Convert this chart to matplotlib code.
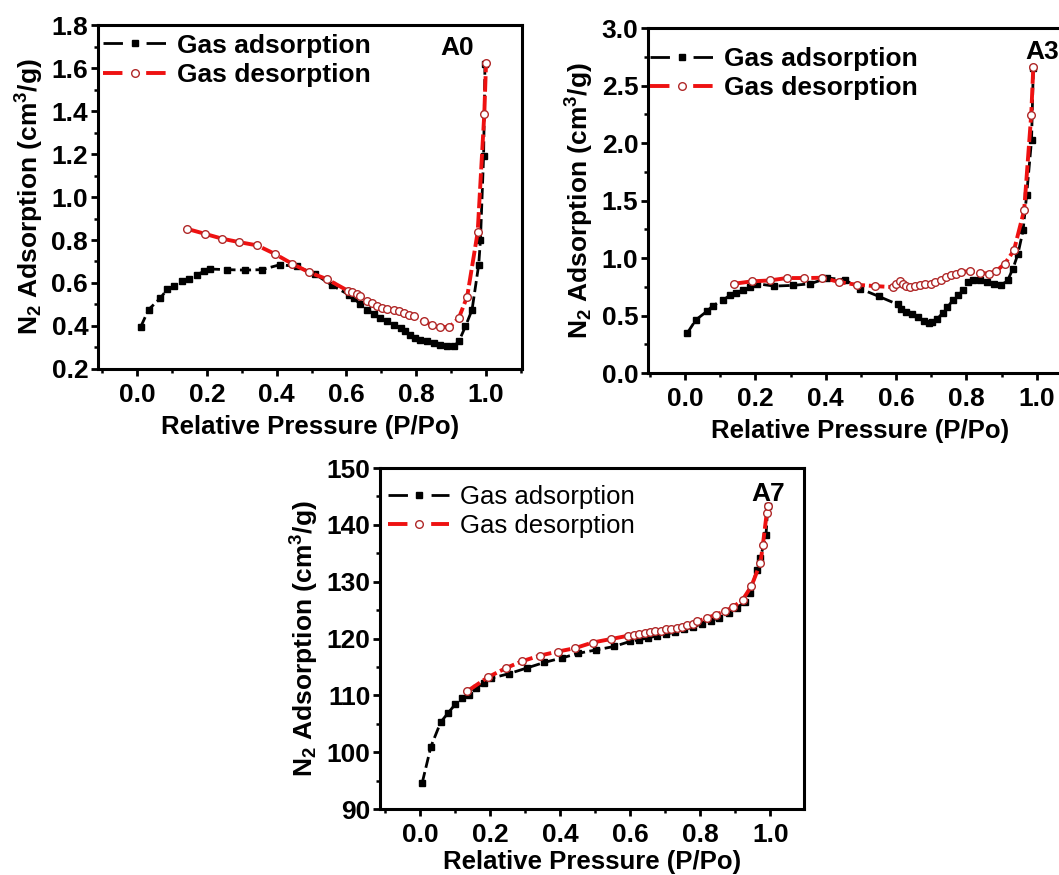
import matplotlib as mpl
mpl.use('Agg')
import matplotlib.pyplot as plt
from matplotlib.lines import Line2D
from matplotlib.ticker import MultipleLocator, FuncFormatter

mpl.rcParams.update({
    'font.family': 'Liberation Sans',
    'font.weight': 'bold',
    'mathtext.fontset': 'custom',
    'mathtext.rm': 'Liberation Sans:bold',
    'mathtext.bf': 'Liberation Sans:bold',
    'mathtext.it': 'Liberation Sans:bold',
    'axes.linewidth': 2.2,
})

# ---- A0 ----
a0_ads_x = [0.010, 0.033, 0.067, 0.086, 0.105, 0.129, 0.148, 0.172, 0.191, 0.208,
            0.258, 0.310, 0.358, 0.409, 0.458, 0.511, 0.559, 0.607, 0.621, 0.640,
            0.659, 0.678, 0.697, 0.716, 0.735, 0.755, 0.769, 0.783, 0.797, 0.812,
            0.831, 0.850, 0.869, 0.888, 0.907, 0.922, 0.941, 0.960, 0.979, 0.984,
            0.993, 0.997]
a0_ads_y = [0.394, 0.476, 0.530, 0.570, 0.584, 0.607, 0.620, 0.638, 0.654, 0.665,
            0.662, 0.660, 0.662, 0.685, 0.677, 0.640, 0.589, 0.545, 0.530, 0.500,
            0.476, 0.457, 0.437, 0.421, 0.406, 0.390, 0.375, 0.360, 0.344, 0.336,
            0.328, 0.320, 0.313, 0.305, 0.305, 0.328, 0.398, 0.476, 0.685, 0.800,
            1.190, 1.620]
a0_des_x = [0.143, 0.194, 0.244, 0.293, 0.344, 0.394, 0.444, 0.494, 0.544, 0.604,
            0.616, 0.630, 0.640, 0.659, 0.673, 0.688, 0.702, 0.716, 0.735, 0.750,
            0.764, 0.778, 0.793, 0.821, 0.845, 0.869, 0.895, 0.922, 0.946, 0.976,
            0.995, 1.000]
a0_des_y = [0.852, 0.829, 0.806, 0.790, 0.775, 0.736, 0.690, 0.649, 0.618, 0.564,
            0.558, 0.550, 0.540, 0.517, 0.507, 0.494, 0.483, 0.479, 0.473, 0.468,
            0.460, 0.452, 0.445, 0.421, 0.406, 0.395, 0.395, 0.437, 0.537, 0.836,
            1.386, 1.622]

# ---- A3 ----
a3_ads_x = [0.007, 0.031, 0.063, 0.080, 0.107, 0.127, 0.146, 0.166, 0.185, 0.205,
            0.254, 0.307, 0.356, 0.405, 0.454, 0.498, 0.551, 0.605, 0.615, 0.629,
            0.644, 0.663, 0.678, 0.693, 0.702, 0.717, 0.732, 0.746, 0.761, 0.776,
            0.790, 0.805, 0.820, 0.839, 0.859, 0.878, 0.898, 0.917, 0.932, 0.946,
            0.961, 0.971, 0.985, 0.990]
a3_ads_y = [0.349, 0.462, 0.538, 0.587, 0.631, 0.674, 0.698, 0.724, 0.747, 0.776,
            0.756, 0.762, 0.776, 0.826, 0.811, 0.733, 0.666, 0.596, 0.558, 0.529,
            0.509, 0.491, 0.456, 0.433, 0.442, 0.471, 0.520, 0.573, 0.631, 0.674,
            0.718, 0.791, 0.811, 0.805, 0.791, 0.776, 0.762, 0.805, 0.907, 1.032,
            1.241, 1.547, 2.026, 2.650]
a3_des_x = [0.139, 0.190, 0.241, 0.290, 0.339, 0.390, 0.439, 0.488, 0.539, 0.590,
            0.600, 0.610, 0.620, 0.629, 0.639, 0.654, 0.668, 0.683, 0.698, 0.712,
            0.727, 0.741, 0.756, 0.771, 0.785, 0.810, 0.839, 0.863, 0.885, 0.909,
            0.935, 0.964, 0.984, 0.990]
a3_des_y = [0.776, 0.797, 0.805, 0.826, 0.826, 0.828, 0.791, 0.767, 0.756, 0.747,
            0.776, 0.800, 0.776, 0.753, 0.747, 0.756, 0.762, 0.770, 0.776, 0.791,
            0.811, 0.834, 0.849, 0.863, 0.878, 0.887, 0.872, 0.863, 0.887, 0.951,
            1.067, 1.416, 2.244, 2.660]

# ---- A7 ----
a7_ads_x = [0.006, 0.031, 0.059, 0.080, 0.100, 0.120, 0.141, 0.161, 0.182, 0.202,
            0.253, 0.304, 0.355, 0.406, 0.452, 0.503, 0.554, 0.600, 0.626, 0.651,
            0.677, 0.702, 0.728, 0.753, 0.779, 0.804, 0.830, 0.855, 0.881, 0.906,
            0.927, 0.942, 0.962, 0.972, 0.988, 0.993]
a7_ads_y = [94.6, 101.0, 105.3, 106.9, 108.4, 109.5, 110.1, 111.3, 112.2, 113.0,
            113.8, 114.8, 115.8, 116.6, 117.4, 118.0, 118.6, 119.5, 119.8, 120.1,
            120.5, 120.8, 121.1, 121.6, 122.0, 122.6, 123.1, 123.7, 124.5, 125.4,
            126.5, 128.0, 132.1, 134.2, 138.3, 143.3]
a7_des_x = [0.134, 0.194, 0.245, 0.291, 0.342, 0.393, 0.442, 0.493, 0.544, 0.595,
            0.610, 0.626, 0.641, 0.656, 0.671, 0.687, 0.702, 0.717, 0.733, 0.748,
            0.763, 0.779, 0.791, 0.819, 0.845, 0.870, 0.893, 0.921, 0.946, 0.972,
            0.979, 0.990, 0.995]
a7_des_y = [110.7, 113.2, 114.8, 116.0, 117.0, 117.7, 118.3, 119.3, 119.9, 120.5,
            120.7, 120.8, 121.0, 121.1, 121.3, 121.4, 121.6, 121.7, 121.8, 122.0,
            122.3, 122.6, 123.0, 123.6, 124.2, 124.8, 125.5, 126.8, 129.2, 133.3,
            136.5, 142.1, 143.4]

panels = [
    dict(name='A0', rect=[0.0925, 0.5783, 0.4004, 0.3931], xlim=(-0.112, 1.103),
         ylim=(0.2, 1.8), ymaj=0.2, ymin=0.1, yfmt='{:.1f}',
         ads=(a0_ads_x, a0_ads_y), des=(a0_des_x, a0_des_y), xpad=6,
         tag=(0.847, 0.933), leg=(0.012, 0.975), legweight='bold', legsize=19),
    dict(name='A3', rect=[0.6119, 0.5737, 0.4004, 0.3943], xlim=(-0.105, 1.10),
         ylim=(0.0, 3.0), ymaj=0.5, ymin=0.25, yfmt='{:.1f}',
         ads=(a3_ads_x, a3_ads_y), des=(a3_des_x, a3_des_y), xpad=6,
         tag=(0.929, 0.930), leg=(0.005, 0.945), legweight='bold', legsize=19),
    dict(name='A7', rect=[0.3590, 0.0754, 0.4004, 0.3897], xlim=(-0.114, 1.097),
         ylim=(90, 150), ymaj=10, ymin=5, yfmt='{:.0f}',
         ads=(a7_ads_x, a7_ads_y), des=(a7_des_x, a7_des_y), xpad=2,
         tag=(0.915, 0.925), leg=(0.018, 0.950), legweight='normal', legsize=18.5),
]

fig = plt.figure(figsize=(10.59, 8.75), dpi=100)

ads_style = dict(color='black', marker='s', ms=5, mfc='black', mec='black')
des_style = dict(color='#ee1111', marker='o', ms=5.5, mfc='white', mec='#b02828', mew=1.0)

for p in panels:
    ax = fig.add_axes(p['rect'])
    ax.plot(*p['ads'], lw=2.0, ls=(0, (4, 1.6)), zorder=3, **ads_style)
    ax.plot(*p['des'], lw=2.8, ls=(0, (4, 1.0)), zorder=4, **des_style)

    ax.set_xlim(*p['xlim'])
    ax.set_ylim(*p['ylim'])
    ax.xaxis.set_major_locator(MultipleLocator(0.2))
    ax.xaxis.set_minor_locator(MultipleLocator(0.1))
    ax.yaxis.set_major_locator(MultipleLocator(p['ymaj']))
    ax.yaxis.set_minor_locator(MultipleLocator(p['ymin']))
    ax.xaxis.set_major_formatter(FuncFormatter(lambda v, _: f'{v:.1f}'))
    fmt = p['yfmt']
    ax.yaxis.set_major_formatter(FuncFormatter(lambda v, _, f=fmt: f.format(v)))
    ax.tick_params(which='both', direction='out', top=False, right=False)
    ax.tick_params(which='major', length=5, width=2, labelsize=19)
    ax.tick_params(which='minor', length=3, width=1.8)
    ax.tick_params(axis='x', pad=5)
    ax.tick_params(axis='y', pad=2)

    ax.set_xlabel('Relative Pressure (P/Po)', fontsize=18.5, fontweight='bold',
                  labelpad=p['xpad'])
    ax.set_ylabel(r'N$_{2}$ Adsorption (cm$^{3}$/g)', fontsize=19, fontweight='bold', labelpad=4)

    ax.text(*p['tag'], p['name'], transform=ax.transAxes, ha='center', va='center',
            fontsize=19, fontweight='bold')

    # legend proxies: long dashes either side of the marker, as in the original
    handles = [
        Line2D([], [], lw=2.0, ls=(0, (7, 8.5)), **ads_style),
        Line2D([], [], lw=2.8, ls=(0, (5, 6.1)), **des_style),
    ]
    ax.legend(handles, ['Gas adsorption', 'Gas desorption'], loc='upper left',
              bbox_to_anchor=p['leg'], frameon=False, borderpad=0, borderaxespad=0,
              handlelength=2.4, handletextpad=0.4, labelspacing=0.2, numpoints=1,
              prop=dict(family='Liberation Sans', weight=p['legweight'], size=p['legsize']))

fig.savefig('out.png', dpi=100)
